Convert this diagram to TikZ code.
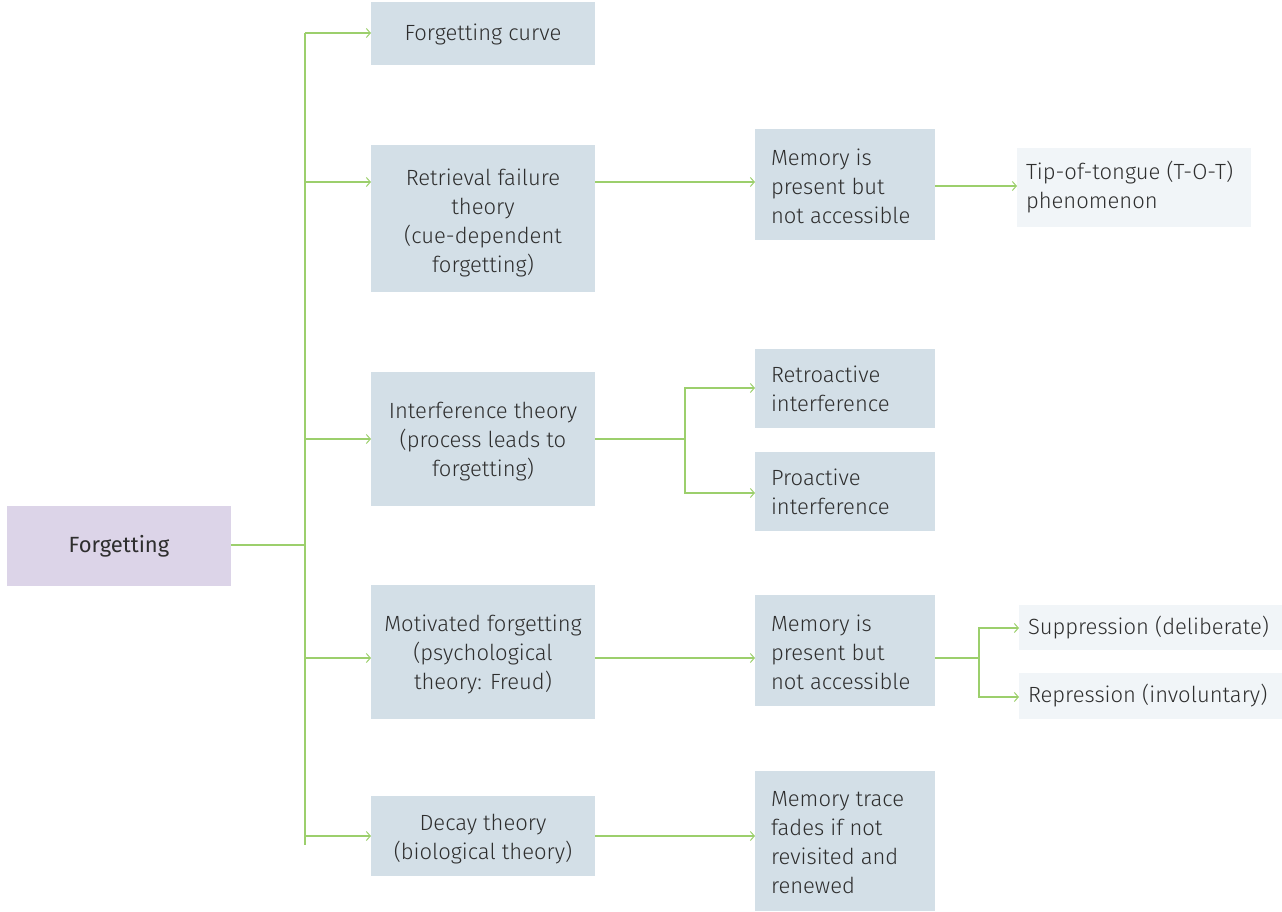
\documentclass[tikz,border=0pt]{standalone}
\usepackage{fontspec}
\setmainfont{Fira Sans Light}
\newfontfamily\boldish{Fira Sans}
\usetikzlibrary{arrows.meta}
\definecolor{boxblue}{HTML}{D3DFE7}
\definecolor{boxpale}{HTML}{F1F5F8}
\definecolor{boxlav}{HTML}{DCD4E8}
\definecolor{linkgreen}{HTML}{9CCF6C}
\definecolor{ink}{HTML}{2E2E2E}
\begin{document}
\begin{tikzpicture}[x=1pt,y=-1pt,
  every node/.style={inner sep=0pt,outer sep=0pt,text=ink,
    font=\fontsize{22}{29}\selectfont},
  mid/.style={fill=boxblue,anchor=north west},
  side/.style={fill=boxblue,anchor=north west},
  pale/.style={fill=boxpale,anchor=north west},
  midtext/.style={align=center},
  link/.style={draw=linkgreen,line width=1.1pt},
  arr/.style={link,-{Straight Barb[length=4pt,width=9pt,line width=1pt]}}]
\useasboundingbox (0,0) rectangle (1282,911);

% root
\node[fill=boxlav,anchor=north west,minimum width=224pt,minimum height=80pt,
  font=\fontsize{22}{29}\boldish] (root) at (7,506) {Forgetting};

% first column: boxes, then their centred texts
\node[mid,minimum width=224pt,minimum height=63pt] (curve) at (371,2) {};
\node[midtext] at ([yshift=-1pt]curve.center) {Forgetting curve};
\node[mid,minimum width=224pt,minimum height=147pt] (retr) at (371,145) {};
\node[midtext] at ([yshift=-4pt]retr.center) {Retrieval failure\\theory\\(cue-dependent\\forgetting)};
\node[mid,minimum width=224pt,minimum height=134pt] (inter) at (371,372) {};
\node[midtext] at ([yshift=-3pt]inter.center) {Interference theory\\(process leads to\\forgetting)};
\node[mid,minimum width=224pt,minimum height=134pt] (motiv) at (371,585) {};
\node[midtext] at ([yshift=-2pt]motiv.center) {Motivated forgetting\\(psychological\\theory: Freud)};
\node[mid,minimum width=224pt,minimum height=80pt] (decay) at (371,796) {};
\node[midtext] at ([yshift=-3pt]decay.center) {Decay theory\\(biological theory)};

% second column
\node[side,minimum width=180pt,minimum height=111pt] (mem1) at (755,129) {};
\node[anchor=west,align=left] at ([xshift=16pt,yshift=-2pt]mem1.west) {Memory is\\present but\\not accessible};
\node[side,minimum width=180pt,minimum height=79pt] (retro) at (755,349) {};
\node[anchor=west,align=left] at ([xshift=16pt]retro.west) {Retroactive\\interference};
\node[side,minimum width=180pt,minimum height=79pt] (pro) at (755,452) {};
\node[anchor=west,align=left] at ([xshift=16pt]pro.west) {Proactive\\interference};
\node[side,minimum width=180pt,minimum height=111pt] (mem2) at (755,595) {};
\node[anchor=west,align=left] at ([xshift=16pt,yshift=-2pt]mem2.west) {Memory is\\present but\\not accessible};
\node[side,minimum width=180pt,minimum height=140pt] (mem3) at (755,771) {};
\node[anchor=west,align=left] at ([xshift=16pt,yshift=-2pt]mem3.west) {Memory trace\\fades if not\\revisited and\\renewed};

% third column
\node[pale,minimum width=234pt,minimum height=79pt] (tot) at (1017,148) {};
\node[anchor=west,align=left] at ([xshift=9pt]tot.west) {Tip-of-tongue (T-O-T)\\phenomenon};
\node[pale,minimum width=263pt,minimum height=45pt] (supp) at (1019,605) {};
\node[anchor=west] at ([xshift=9pt]supp.west) {Suppression (deliberate)};
\node[pale,minimum width=263pt,minimum height=46pt] (rep) at (1019,673) {};
\node[anchor=west] at ([xshift=9pt]rep.west) {Repression (involuntary)};

% branch points
\coordinate (trunk) at (305,545);
\coordinate (itop) at (305,33);
\coordinate (ibot) at (305,845);
\coordinate (ifork) at (685,439);
\coordinate (mfork) at (979,658);

% trunk
\draw[link] (root.east |- trunk) -- (trunk);
\draw[link] (itop) -- (ibot);
\draw[arr] (itop) -- (curve.west |- itop);
\draw[arr] (305,182) -- (retr.west |- 0,182);
\draw[arr] (305,439) -- (inter.west |- 0,439);
\draw[arr] (305,658) -- (motiv.west |- 0,658);
\draw[arr] (305,836) -- (decay.west |- 0,836);

% retrieval chain
\draw[arr] (retr.east |- 0,182) -- (mem1.west |- 0,182);
\draw[arr] (mem1.east |- 0,186) -- (tot.west |- 0,186);

% interference fork
\draw[link] (inter.east |- ifork) -- (ifork);
\draw[arr] (ifork) |- (retro.west |- 0,388);
\draw[arr] (ifork) |- (pro.west |- 0,493);

% motivated chain
\draw[arr] (motiv.east |- mfork) -- (mem2.west |- mfork);
\draw[link] (mem2.east |- mfork) -- (mfork);
\draw[arr] (mfork) |- (supp.west |- 0,628);
\draw[arr] (mfork) |- (rep.west |- 0,697);

% decay chain
\draw[arr] (decay.east |- 0,836) -- (mem3.west |- 0,836);
\end{tikzpicture}
\end{document}
